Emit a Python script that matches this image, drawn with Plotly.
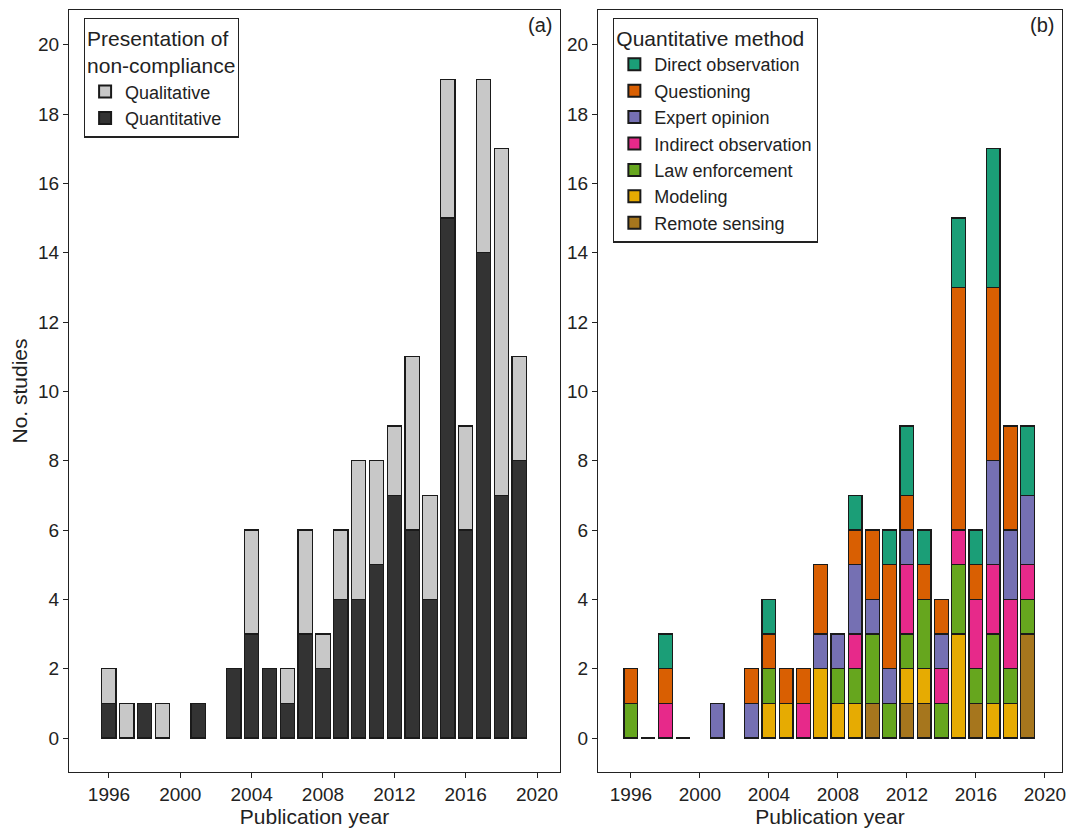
import plotly.graph_objects as go
from plotly.subplots import make_subplots

# Panel (a): presentation of non-compliance
years_a = [1996, 1997, 1998, 1999, 2001, 2003, 2004, 2005, 2006, 2007, 2008,
           2009, 2010, 2011, 2012, 2013, 2014, 2015, 2016, 2017, 2018, 2019]
quantitative = [1, 0, 1, 0, 1, 2, 3, 2, 1, 3, 2, 4, 4, 5, 7, 6, 4, 15, 6, 14, 7, 8]
total_a = [2, 1, 1, 1, 1, 2, 6, 2, 2, 6, 3, 6, 8, 8, 9, 11, 7, 19, 9, 19, 17, 11]
qualitative = [t - q for t, q in zip(total_a, quantitative)]

# Panel (b): quantitative method
years_b = [1996, 1997, 1998, 1999, 2001, 2003, 2004, 2005, 2006, 2007, 2008,
           2009, 2010, 2011, 2012, 2013, 2014, 2015, 2016, 2017, 2018, 2019]
remote = [0, 0, 0, 0, 0, 0, 0, 0, 0, 0, 0, 0, 1, 0, 1, 1, 0, 0, 1, 0, 0, 3]
modeling = [0, 0, 0, 0, 0, 0, 1, 1, 0, 2, 1, 1, 0, 0, 1, 1, 0, 3, 0, 1, 1, 0]
law = [1, 0, 0, 0, 0, 0, 1, 0, 0, 0, 1, 1, 2, 1, 1, 2, 1, 2, 1, 2, 1, 1]
indirect = [0, 0, 1, 0, 0, 0, 0, 0, 1, 0, 0, 1, 0, 0, 2, 0, 1, 1, 2, 2, 2, 1]
expert = [0, 0, 0, 0, 1, 1, 0, 0, 0, 1, 1, 2, 1, 1, 1, 0, 1, 0, 0, 3, 2, 2]
questioning = [1, 0, 1, 0, 0, 1, 1, 1, 1, 2, 0, 1, 2, 3, 1, 1, 1, 7, 1, 5, 3, 0]
direct = [0, 0, 1, 0, 0, 0, 1, 0, 0, 0, 0, 1, 0, 1, 2, 1, 0, 2, 1, 4, 0, 2]
zero_years = [1997, 1999]  # studies with no quantitative method (flat marks)

methods = [
    ("Remote sensing", remote, "#A6761D"),
    ("Modeling", modeling, "#E6AB02"),
    ("Law enforcement", law, "#66A61E"),
    ("Indirect observation", indirect, "#E7298A"),
    ("Expert opinion", expert, "#7570B3"),
    ("Questioning", questioning, "#D95F02"),
    ("Direct observation", direct, "#1B9E77"),
]


def nz(vals):
    return [v if v else None for v in vals]


fig = make_subplots(rows=1, cols=2)
line = dict(color="#1a1a1a", width=1.2)

fig.add_trace(go.Bar(x=years_a, y=nz(quantitative), name="Quantitative", marker=dict(color="#333333", line=line),
                     width=0.8, legend="legend"), row=1, col=1)
fig.add_trace(go.Bar(x=years_a, y=nz(qualitative), name="Qualitative", marker=dict(color="#C8C8C8", line=line),
                     width=0.8, legend="legend"), row=1, col=1)

fig.add_trace(go.Bar(x=zero_years, y=[0, 0], marker=dict(color="#1B9E77", line=line), width=0.8,
                     showlegend=False, hoverinfo="skip"), row=1, col=2)
for name, vals, col in methods:
    fig.add_trace(go.Bar(x=years_b, y=nz(vals), name=name, marker=dict(color=col, line=line),
                         width=0.8, legend="legend2"), row=1, col=2)

axis_common = dict(showline=True, mirror=True, linecolor="#222", linewidth=1.2, ticks="outside",
                   ticklen=5, tickcolor="#222", showgrid=False, zeroline=False, automargin=False,
                   tickfont=dict(size=19, color="#222"))
fig.update_xaxes(axis_common, tickvals=[1996, 2000, 2004, 2008, 2012, 2016, 2020],
                 title=dict(text="Publication year", font=dict(size=21, color="#222"), standoff=2))
fig.update_xaxes(range=[1993.76, 2021.29], domain=[0, 0.4945], row=1, col=1)
fig.update_xaxes(range=[1994.09, 2020.99], domain=[0.5327, 1], row=1, col=2)
fig.update_yaxes(axis_common, range=[-0.98, 21.0], dtick=2)
fig.update_yaxes(title=dict(text="No. studies", font=dict(size=21, color="#222"), standoff=6), row=1, col=1)

legend_common = dict(bgcolor="white", bordercolor="#222", borderwidth=1.2, traceorder="reversed",
                     font=dict(size=18, color="#222"), xanchor="left", yanchor="top",
                     tracegroupgap=0, itemsizing="constant")
fig.update_layout(
    barmode="stack",
    plot_bgcolor="white",
    paper_bgcolor="white",
    font=dict(family="Liberation Sans, Arial, sans-serif"),
    width=1067, height=822,
    margin=dict(l=61, r=13, t=2, b=58, autoexpand=False),
    legend=dict(legend_common, x=0.015, y=0.99,
                title=dict(text="Presentation of<br>non-compliance", font=dict(size=21, color="#222"))),
    legend2=dict(legend_common, x=0.548, y=0.99,
                 title=dict(text="Quantitative method", font=dict(size=21, color="#222"))),
    annotations=[
        dict(text="(a)", x=0.488, y=0.997, xref="paper", yref="paper", xanchor="right", yanchor="top",
             showarrow=False, font=dict(size=20, color="#222")),
        dict(text="(b)", x=0.994, y=0.997, xref="paper", yref="paper", xanchor="right", yanchor="top",
             showarrow=False, font=dict(size=20, color="#222")),
    ],
)

fig.write_html("out.html")
